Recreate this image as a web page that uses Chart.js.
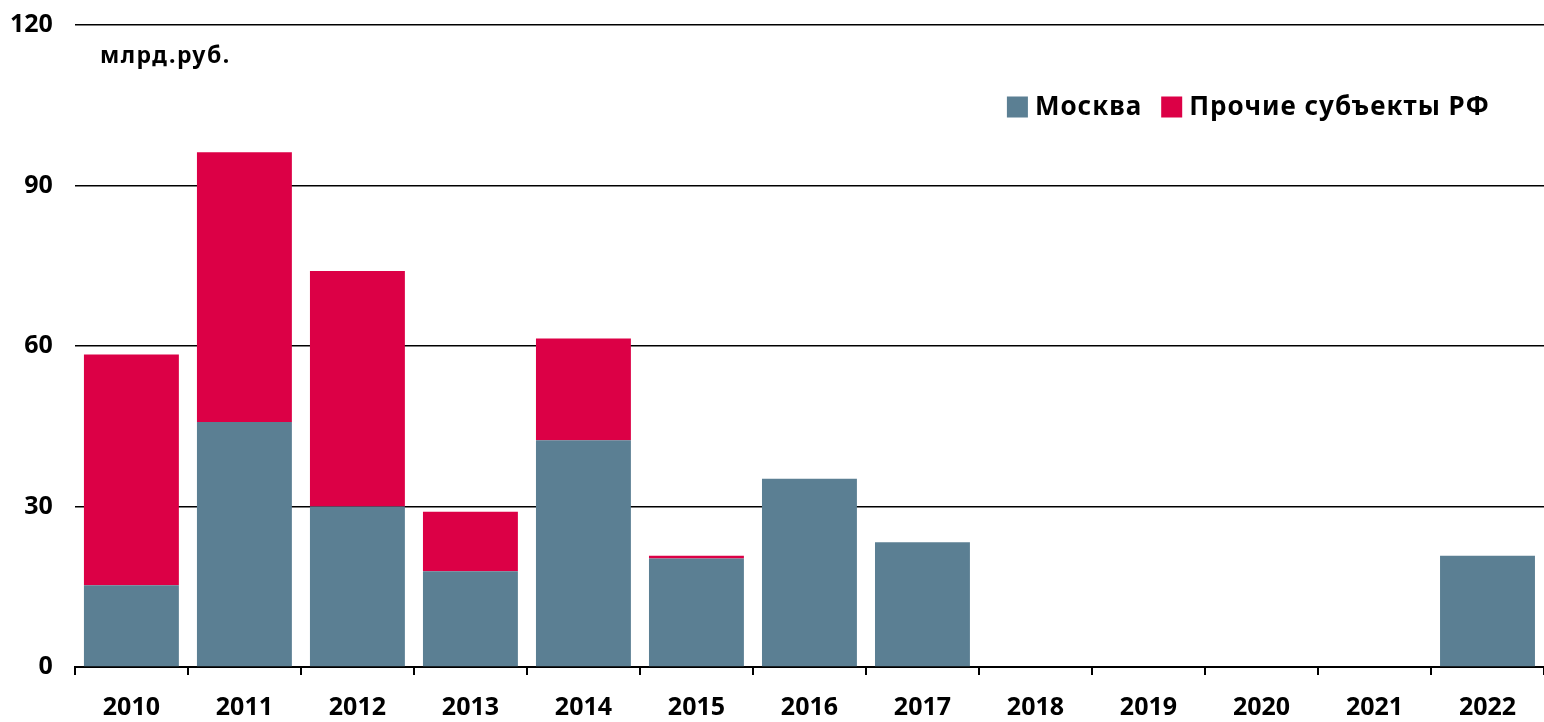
<!DOCTYPE html>
<html>
<head>
<meta charset="utf-8">
<script src="https://cdn.jsdelivr.net/npm/chart.js@4.4.0/dist/chart.umd.min.js"></script>
<style>
    html, body { margin: 0; padding: 0; background: #fff; overflow: hidden; }
    #wrap { position: relative; top: -12px; width: 1544px; height: 734px; }
</style>
</head>
<body>
<div id="wrap"><canvas id="chart"></canvas></div>
<script>
"use strict";

const years = ["2010", "2011", "2012", "2013", "2014", "2015", "2016", "2017", "2018", "2019", "2020", "2021", "2022"];
const moscow = [15.3, 45.8, 30.0, 17.9, 42.4, 20.3, 35.2, 23.3, 0, 0, 0, 0, 20.8];
const others = [43.1, 50.4, 44.0, 11.1, 19.0, 0.5, 0, 0, 0, 0, 0, 0, 0];
const yTicks = [0, 30, 60, 90, 120];
const unitLabel = "млрд.руб.";

const fontFamily = "'Noto Sans', 'DejaVu Sans', sans-serif";

// легенда и подпись единиц внутри области графика
const insideLegend = {
    id: "insideLegend",
    afterDraw: function (chart) {
        const ctx = chart.ctx;
        const area = chart.chartArea;
        ctx.save();
        ctx.fillStyle = "#000";
        ctx.font = "bold 23px " + fontFamily;
        ctx.letterSpacing = "1.5px";
        ctx.textBaseline = "middle";
        ctx.textAlign = "left";
        ctx.fillText(unitLabel, area.left + 25, area.top + 31);

        ctx.font = "bold 26px " + fontFamily;
        ctx.letterSpacing = "1px";
        const box = 21;
        const gap = 7;
        const itemGap = 19;
        const items = chart.data.datasets.map(function (ds) {
            return { label: ds.label, color: ds.backgroundColor, w: box + gap + ctx.measureText(ds.label).width };
        });
        let total = 0;
        items.forEach(function (it, i) { total += it.w + (i > 0 ? itemGap : 0); });
        let x = area.right - 54 - total;
        const y = area.top + 82;
        items.forEach(function (it) {
            ctx.fillStyle = it.color;
            ctx.fillRect(x, y - box / 2, box, box);
            ctx.fillStyle = "#000";
            ctx.fillText(it.label, x + box + gap, y + 1);
            x += it.w + itemGap;
        });
        ctx.restore();
    }
};

new Chart(document.getElementById("chart"), {
    type: "bar",
    data: {
        labels: years,
        datasets: [
            { label: "Москва", data: moscow, backgroundColor: "#5B7F93" },
            { label: "Прочие субъекты РФ", data: others, backgroundColor: "#DC0046" }
        ]
    },
    options: {
        responsive: true,
        maintainAspectRatio: false,
        animation: false,
        layout: { padding: { top: 0, right: 0, left: -12, bottom: 0 } },
        datasets: { bar: { barPercentage: 0.84, categoryPercentage: 1.0 } },
        plugins: {
            legend: { display: false },
            tooltip: { enabled: false }
        },
        scales: {
            x: {
                stacked: true,
                afterFit: function (axis) { axis.height = 55; },
                grid: { display: true, drawOnChartArea: false, offset: true, color: "#000", lineWidth: 2, tickLength: 8 },
                border: { display: true, color: "#000", width: 2 },
                ticks: { color: "#000", font: { family: fontFamily, size: 25, weight: "bold" }, padding: 18, maxRotation: 0 }
            },
            y: {
                stacked: true,
                min: 0,
                max: 120,
                afterBuildTicks: function (axis) {
                    axis.ticks = yTicks.map(function (v) { return { value: v }; });
                },
                grid: { color: "#000", lineWidth: 1.5, drawTicks: false },
                border: { display: false },
                ticks: { color: "#000", font: { family: fontFamily, size: 25, weight: "bold" }, padding: 22 }
            }
        }
    },
    plugins: [insideLegend]
});
</script>
</body>
</html>
